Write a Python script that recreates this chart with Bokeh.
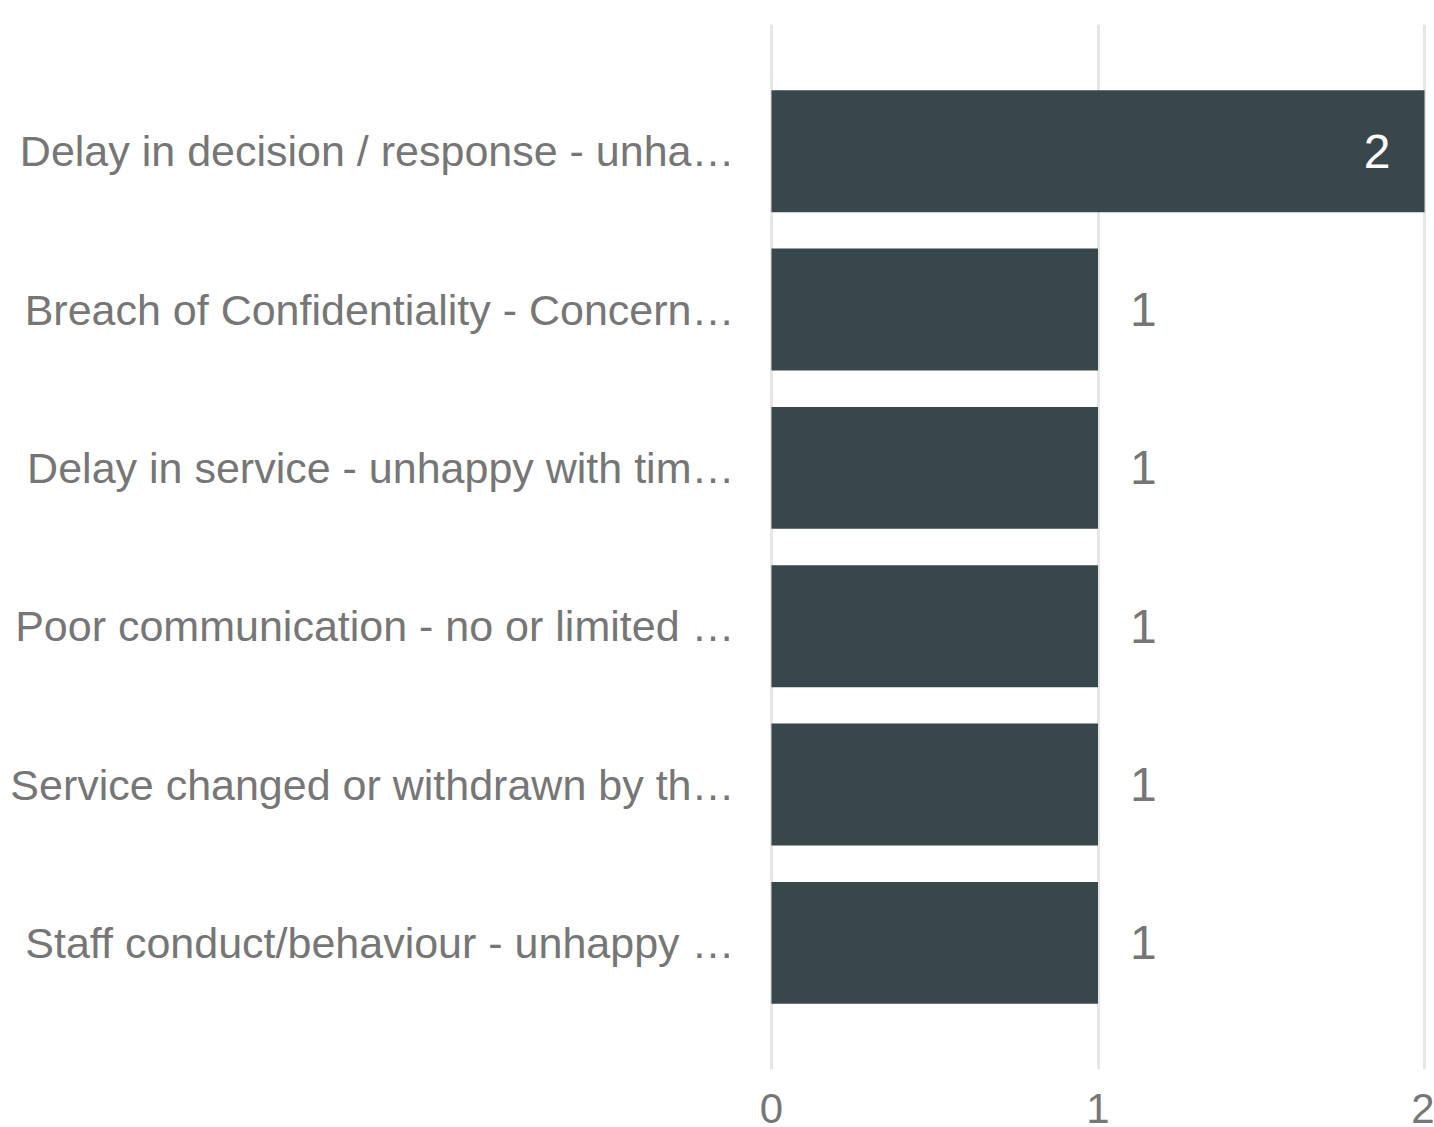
from bokeh.plotting import figure
from bokeh.models import ColumnDataSource, FactorRange, FixedTicker, Range1d
from bokeh.embed import file_html
from bokeh.resources import INLINE
from bokeh.core.properties import value

categories = [
    "Delay in decision / response - unha\u2026",
    "Breach of Confidentiality - Concern\u2026",
    "Delay in service - unhappy with tim\u2026",
    "Poor communication - no or limited \u2026",
    "Service changed or withdrawn by th\u2026",
    "Staff conduct/behaviour - unhappy \u2026",
]
counts = [2, 1, 1, 1, 1, 1]
x_ticks = [0, 1, 2]

FONT = "Liberation Sans"
BAR = "#37474c"
GREY = "#767676"

vmax = max(counts)
inside = [c == vmax for c in counts]
src = ColumnDataSource(dict(
    cat=categories,
    val=counts,
    label=[str(c) for c in counts],
    color=["#ffffff" if i else GREY for i in inside],
    align=["right" if i else "left" for i in inside],
    xoff=[-34 if i else 32 for i in inside],
))

yr = FactorRange(factors=list(reversed(categories)), range_padding=0.3,
                 range_padding_units="absolute")
xr = Range1d(-0.006, 2.006)

p = figure(width=1434, height=1127, y_range=yr, x_range=xr,
           output_backend="svg", toolbar_location=None,
           min_border_left=769, min_border_right=8, min_border_top=24,
           min_border_bottom=58)

p.hbar(y="cat", right="val", left=0, height=0.77, source=src,
       fill_color=BAR, line_color=None)
p.text(x="val", y="cat", text="label", source=src, text_color="color",
       text_align="align", x_offset="xoff", text_baseline="middle",
       text_font=value(FONT), text_font_size="48px")

p.outline_line_color = None
p.ygrid.grid_line_color = None
p.xgrid.grid_line_color = "#e6e6e6"
p.xgrid.grid_line_width = 3
p.xaxis.ticker = FixedTicker(ticks=x_ticks)

for ax in (p.xaxis[0], p.yaxis[0]):
    ax.axis_line_color = None
    ax.major_tick_line_color = None
    ax.minor_tick_line_color = None
    ax.major_label_text_color = GREY
    ax.major_label_text_font = FONT

p.yaxis.major_label_text_font_size = "43px"
p.yaxis.major_label_standoff = 29
p.xaxis.major_label_text_font_size = "42px"
p.xaxis.major_label_standoff = 18

open("out.html", "w").write(file_html(p, INLINE))
